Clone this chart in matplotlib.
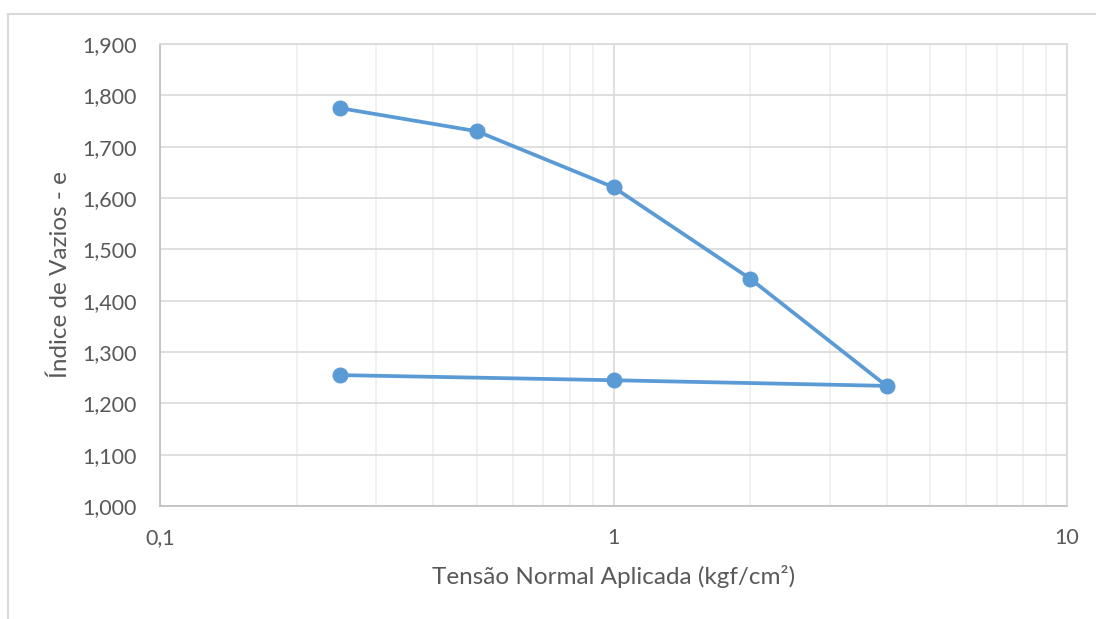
import numpy as np
import matplotlib.pyplot as plt
from matplotlib.ticker import FixedLocator, FuncFormatter, LogLocator, NullFormatter
from matplotlib.lines import Line2D

# ensaio de adensamento: carregamento e descarregamento
tensao = [0.25, 0.5, 1, 2, 4, 1, 0.25]
indice_vazios = [1.775, 1.730, 1.621, 1.443, 1.234, 1.245, 1.255]

x_ticks = [0.1, 1, 10]
x_tick_labels = ['0,1', '1', '10']
y_ticks = np.arange(1.0, 1.901, 0.1)

plt.rcParams['font.family'] = ['Lato', 'DejaVu Sans']
txt = '#595959'

fig = plt.figure(figsize=(10.96, 6.19), dpi=100)
ax = fig.add_axes([160 / 1096, 1 - 506 / 619, (1067 - 160) / 1096, (506 - 44) / 619])

# outer chart border (only top and left visible)
fig.add_artist(Line2D([8 / 1096, 8 / 1096], [0, 1 - 14 / 619], transform=fig.transFigure, color='#d9d9d9', lw=1.5))
fig.add_artist(Line2D([8 / 1096, 1], [1 - 14 / 619, 1 - 14 / 619], transform=fig.transFigure, color='#d9d9d9', lw=1.5))

ax.plot(tensao, indice_vazios, color='#5b9bd5', lw=2.7, marker='o', markersize=10.5, zorder=3)

ax.set_xscale('log')
ax.set_xlim(0.1, 10)
ax.set_ylim(1.0, 1.9)
ax.xaxis.set_major_locator(FixedLocator(x_ticks))
ax.xaxis.set_major_formatter(FuncFormatter(lambda v, p: x_tick_labels[x_ticks.index(v)] if v in x_ticks else ''))
ax.xaxis.set_minor_locator(LogLocator(base=10, subs=np.arange(2, 10)))
ax.xaxis.set_minor_formatter(NullFormatter())
ax.set_yticks(y_ticks)
ax.yaxis.set_major_formatter(FuncFormatter(lambda v, p: f'{v:.3f}'.replace('.', ',')))

ax.grid(which='major', color='#d9d9d9', lw=1.2)
ax.grid(which='minor', axis='x', color='#efefef', lw=1.2)
ax.set_axisbelow(True)
for s in ax.spines.values():
    s.set_color('#d9d9d9')
    s.set_linewidth(1.2)
ax.spines['left'].set_color('#bfbfbf')
ax.spines['bottom'].set_color('#bfbfbf')

ax.tick_params(which='both', length=0)
ax.tick_params(axis='x', pad=16, labelsize=15.5, labelcolor=txt)
ax.tick_params(axis='y', pad=17, labelsize=15.5, labelcolor=txt)

ax.set_xlabel('Tensão Normal Aplicada (kgf/cm²)', fontsize=17.5, color=txt, labelpad=12)
ax.set_ylabel('Índice de Vazios - e', fontsize=17.5, color=txt, labelpad=8)

fig.savefig('out.png', dpi=100, facecolor='white')
